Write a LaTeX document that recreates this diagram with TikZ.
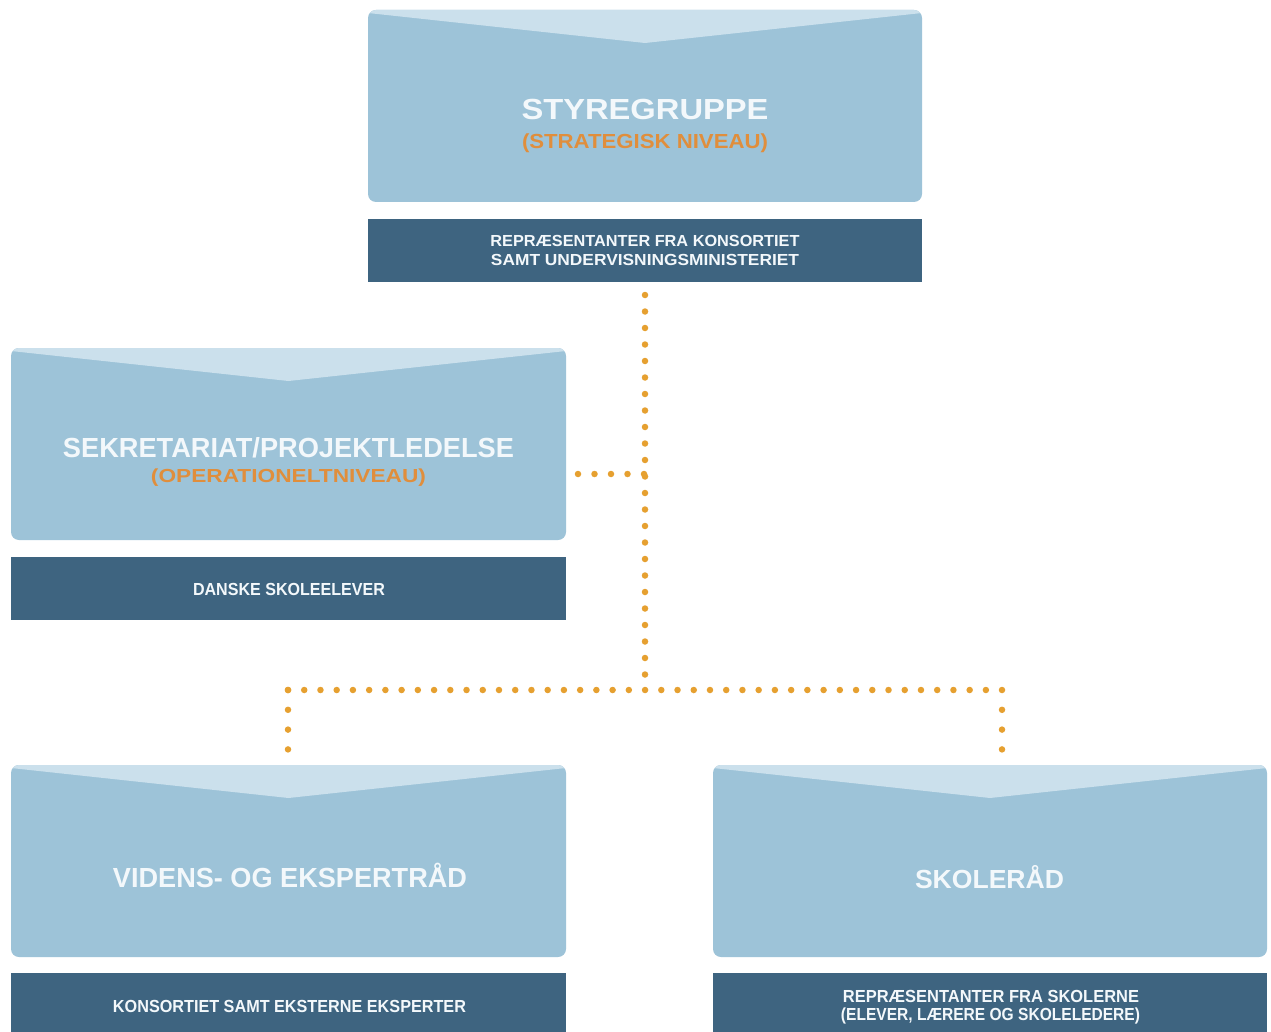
\documentclass[tikz,border=0pt]{standalone}
\usepackage{fontspec}
\setmainfont{Liberation Sans}
\usepackage{graphicx}
\definecolor{lightbox}{HTML}{9DC3D8}
\definecolor{chevron}{HTML}{CBE0EC}
\definecolor{darkbox}{HTML}{3E6480}
\definecolor{titlewhite}{HTML}{F3F8FB}
\definecolor{orangetxt}{HTML}{E08E3C}
\definecolor{dotcol}{HTML}{E6A030}
\newcommand\capfit[3]{\resizebox{#1}{#2}{\raisebox{0pt}[\fontcharht\font`E][0pt]{#3}}}
\tikzset{
  lightpanel/.style={rectangle, fill=lightbox, rounded corners=8pt, draw=none, outer sep=0pt, inner sep=0pt},
  darkpanel/.style={rectangle, fill=darkbox, draw=none, outer sep=0pt, inner sep=0pt},
  ttl/.style={font=\fontsize{20}{24}\selectfont\bfseries, text=titlewhite, inner sep=0pt, anchor=base},
  sub/.style={font=\fontsize{14}{16}\selectfont\bfseries, text=orangetxt, inner sep=0pt, anchor=base},
  small/.style={font=\fontsize{11}{13}\selectfont\bfseries, text=titlewhite, inner sep=0pt, anchor=base},
  dots/.style={draw=dotcol, line width=6.5pt, line cap=round, dash pattern=on 0pt off #1},
  dots/.default=16.3pt,
}
\newcommand\chev[1]{%
  \begin{scope}
    \clip[rounded corners=8pt] (#1.north west) rectangle (#1.south east);
    \fill[chevron] ([yshift=-3pt]#1.north west) -- ([yshift=-33pt]#1.north) -- ([yshift=-3pt]#1.north east) -- (#1.north east) -- (#1.north west) -- cycle;
  \end{scope}}
\begin{document}
\begin{tikzpicture}[x=1pt,y=-1pt]
\fill[white] (0,0) rectangle (1271,1032);
\useasboundingbox (0,0) rectangle (1271,1032);

% panels
\node[lightpanel, minimum width=554pt, minimum height=192pt] (sg) at (645,106) {};
\node[darkpanel, minimum width=554pt, minimum height=63pt] (sgd) at (645,250.5) {};
\node[lightpanel, minimum width=555pt, minimum height=192pt] (sk) at (288.5,444) {};
\node[darkpanel, minimum width=555pt, minimum height=63pt] (skd) at (288.5,588.5) {};
\node[lightpanel, minimum width=555pt, minimum height=192pt] (ve) at (288.5,861) {};
\node[darkpanel, minimum width=555pt, minimum height=59pt] (ved) at (288.5,1002.5) {};
\node[lightpanel, minimum width=554pt, minimum height=192pt] (sr) at (990,861) {};
\node[darkpanel, minimum width=554pt, minimum height=59pt] (srd) at (990,1002.5) {};
\chev{sg}\chev{sk}\chev{ve}\chev{sr}

% texts
\node[ttl] (t1) at (645,120) {\capfit{247pt}{20pt}{STYREGRUPPE}};
\node[sub] (t1s) at (645,149) {\capfit{246pt}{14pt}{(STRATEGISK NIVEAU)}};
\node[small] (d1a) at (645,247) {\capfit{309pt}{11pt}{REPRÆSENTANTER FRA KONSORTIET}};
\node[small] (d1b) at (645,266) {\capfit{308pt}{11pt}{SAMT UNDERVISNINGSMINISTERIET}};

\node[ttl] (t2) at (288.5,457) {\capfit{451pt}{19pt}{SEKRETARIAT/PROJEKTLEDELSE}};
\node[sub] (t2s) at (288.5,482) {\capfit{275pt}{13pt}{(OPERATIONELTNIVEAU)}};
\node[small] (d2) at (289,595) {\capfit{192pt}{12pt}{DANSKE SKOLEELEVER}};

\node[ttl] (t3) at (290,887) {\capfit{354pt}{19pt}{VIDENS- OG EKSPERTRÅD}};
\node[small] (d3) at (289.5,1012) {\capfit{353pt}{12pt}{KONSORTIET SAMT EKSTERNE EKSPERTER}};

\node[ttl] (t4) at (989.5,888) {\capfit{149pt}{18pt}{SKOLERÅD}};
\node[small] (d4a) at (991,1002) {\capfit{296pt}{12pt}{REPRÆSENTANTER FRA SKOLERNE}};
\node[small] (d4b) at (990.5,1020) {\capfit{299pt}{12pt}{(ELEVER, LÆRERE OG SKOLELEDERE)}};

% connectors
\coordinate (j) at (645,690);
\coordinate (jl) at (288,690);
\coordinate (jr) at (1002,690);
\coordinate (sj) at (645,474);
\coordinate (top) at ([yshift=-13pt]sgd.south);
\coordinate (skx) at ([xshift=12pt]sk.east);
\coordinate (vet) at ([yshift=15pt]ve.north);
\coordinate (srt) at ([yshift=15pt]sr.north);
\draw[dots=16.5pt] (top) -- (j);
\draw[dots=16.5pt] (skx |- sj) -- (sj);
\draw[dots=16.23pt] (jl) -- (jr);
\draw[dots=19.8pt] (jl) -- (jl |- vet);
\draw[dots=19.8pt] (jr) -- (jr |- srt);
\end{tikzpicture}
\end{document}
